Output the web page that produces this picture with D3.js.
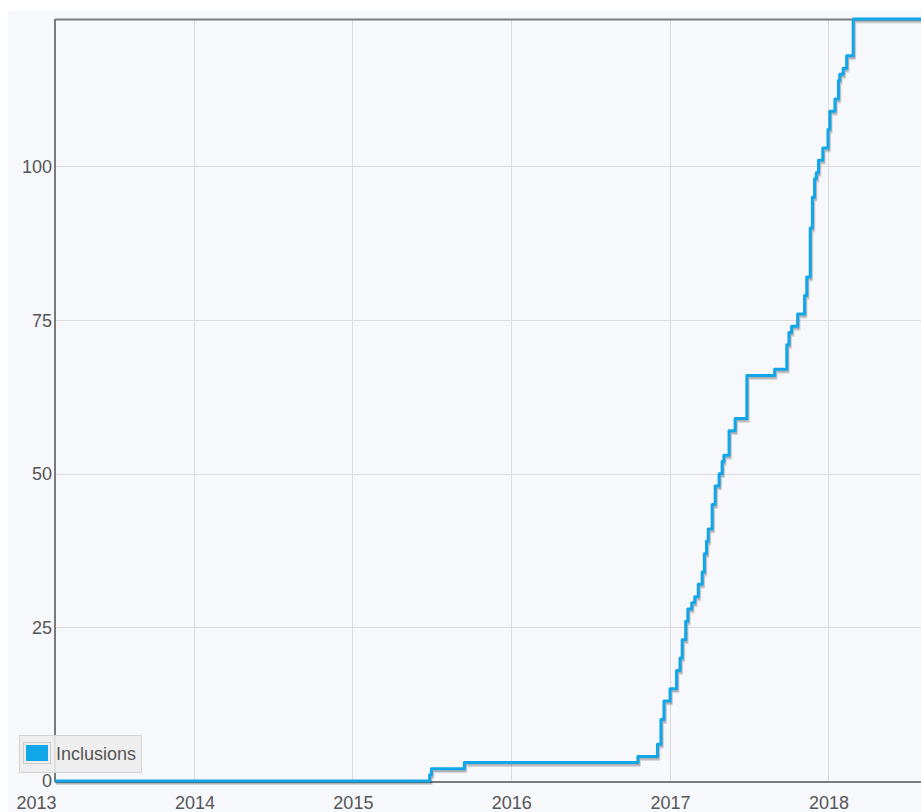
<!DOCTYPE html>
<html>
<head>
<meta charset="utf-8">
<script src="https://cdn.jsdelivr.net/npm/d3@7"></script>
<style>
  html, body { margin: 0; padding: 0; background: #ffffff; }
  svg { display: block; }
  text { font-family: "Liberation Sans", Arial, sans-serif; }
</style>
</head>
<body>
<svg id="chart" width="921" height="812"></svg>
<script>
// ---- data ----
const stepDates = [
  "2013-02-14","2015-06-28","2015-07-02","2015-09-16","2016-10-20","2016-12-04",
  "2016-12-12","2016-12-19","2017-01-02","2017-01-17","2017-01-25","2017-01-30",
  "2017-02-07","2017-02-12","2017-02-21","2017-02-28","2017-03-08","2017-03-17",
  "2017-03-22","2017-03-27","2017-03-31","2017-04-09","2017-04-16","2017-04-25",
  "2017-05-02","2017-05-06","2017-05-18","2017-06-01","2017-06-28","2017-08-31",
  "2017-09-28","2017-10-03","2017-10-09","2017-10-23","2017-11-08","2017-11-13",
  "2017-11-21","2017-11-26","2017-12-01","2017-12-05","2017-12-10","2017-12-20",
  "2018-01-01","2018-01-05","2018-01-17","2018-01-25","2018-01-28","2018-02-05",
  "2018-02-13","2018-02-28","2018-08-31"
];
const inclusions = [
  0,1,2,3,4,6,
  10,13,15,18,20,23,
  26,28,29,30,32,34,
  37,39,41,45,48,50,
  52,53,57,59,66,67,
  71,73,74,76,79,82,
  90,95,98,99,101,103,
  106,109,111,114,115,116,
  118,124,124
];
const seriesName = "Inclusions";
const yTickValues = [0, 25, 50, 75, 100];
const xTickYears = [2013, 2014, 2015, 2016, 2017, 2018];

// ---- layout ----
const svg = d3.select("#chart");
const plot = { left: 55, top: 19, right: 945, bottom: 781 };
const lineColor = "#10a6e8";

svg.append("rect").attr("x", 8).attr("y", 11).attr("width", 921 - 8).attr("height", 812 - 11)
  .attr("fill", "#f7f8fc");

const parse = d3.utcParse("%Y-%m-%d");
const data = stepDates.map((d, i) => ({ date: parse(d), value: inclusions[i] }));

const x = d3.scaleUtc()
  .domain([new Date(Date.UTC(2014, 0, 1)), new Date(Date.UTC(2018, 0, 1))])
  .range([194, 828]);
const y = d3.scaleLinear().domain([0, 124]).range([plot.bottom, plot.top]);

// clip
svg.append("clipPath").attr("id", "plotclip").append("rect")
  .attr("x", plot.left).attr("y", plot.top - 4)
  .attr("width", plot.right - plot.left).attr("height", plot.bottom - plot.top + 8);

// gridlines
const grid = svg.append("g");
grid.selectAll("line.v").data(xTickYears.filter(yr => x(new Date(Date.UTC(yr, 0, 1))) > plot.left + 1))
  .join("line")
  .attr("x1", d => Math.round(x(new Date(Date.UTC(d, 0, 1)))) + 0.5)
  .attr("x2", d => Math.round(x(new Date(Date.UTC(d, 0, 1)))) + 0.5)
  .attr("y1", plot.top).attr("y2", plot.bottom)
  .attr("stroke", "#dcdcdc").attr("stroke-width", 1);
grid.selectAll("line.h").data(yTickValues.filter(v => v > 0))
  .join("line")
  .attr("x1", plot.left).attr("x2", plot.right)
  .attr("y1", d => Math.round(y(d)) + 0.5).attr("y2", d => Math.round(y(d)) + 0.5)
  .attr("stroke", "#dcdcdc").attr("stroke-width", 1);

// border
const borderColor = "#7a7a7a";
svg.append("line").attr("x1", plot.left).attr("x2", plot.right).attr("y1", plot.top + 0.5).attr("y2", plot.top + 0.5)
  .attr("stroke", borderColor).attr("stroke-width", 2);
svg.append("line").attr("x1", plot.left).attr("x2", plot.left).attr("y1", plot.top).attr("y2", plot.bottom + 1)
  .attr("stroke", borderColor).attr("stroke-width", 2);
svg.append("line").attr("x1", plot.left).attr("x2", plot.right).attr("y1", plot.bottom + 1).attr("y2", plot.bottom + 1)
  .attr("stroke", borderColor).attr("stroke-width", 2);

// line
const lineGen = d3.line().x(d => x(d.date)).y(d => y(d.value)).curve(d3.curveStepAfter);
const lg = svg.append("g").attr("clip-path", "url(#plotclip)");
lg.append("path").datum(data).attr("d", lineGen)
  .attr("transform", "translate(1.5,3)")
  .attr("fill", "none").attr("stroke", "rgba(0,0,0,0.12)").attr("stroke-width", 3).attr("stroke-linejoin", "round");
lg.append("path").datum(data).attr("d", lineGen)
  .attr("transform", "translate(1,2)")
  .attr("fill", "none").attr("stroke", "rgba(0,0,0,0.18)").attr("stroke-width", 2.5).attr("stroke-linejoin", "round");
lg.append("path").datum(data).attr("d", lineGen)
  .attr("fill", "none").attr("stroke", lineColor).attr("stroke-width", 3).attr("stroke-linejoin", "round");

// axis labels
const labelColor = "#555555";
svg.append("g").selectAll("text").data(yTickValues).join("text")
  .attr("x", 52).attr("y", d => y(d)).attr("dy", "0.36em")
  .attr("text-anchor", "end").attr("font-size", 18).attr("fill", labelColor)
  .text(d => d);
svg.append("g").selectAll("text").data(xTickYears).join("text")
  .attr("x", d => x(new Date(Date.UTC(d, 0, 1))) + 1).attr("y", 809)
  .attr("text-anchor", "middle").attr("font-size", 18).attr("fill", labelColor)
  .text(d => d);

// legend
const legend = svg.append("g");
legend.append("rect").attr("x", 19.5).attr("y", 735.5).attr("width", 122).attr("height", 37)
  .attr("fill", "#ececec").attr("fill-opacity", 0.9).attr("stroke", "#d4d4d4");
legend.append("rect").attr("x", 23.5).attr("y", 742.5).attr("width", 27).attr("height", 21)
  .attr("fill", "none").attr("stroke", "#cccccc");
legend.append("rect").attr("x", 26).attr("y", 745).attr("width", 22).attr("height", 16)
  .attr("fill", lineColor);
legend.append("text").attr("x", 56).attr("y", 760).attr("font-size", 18).attr("fill", labelColor)
  .text(seriesName);
</script>
</body>
</html>
